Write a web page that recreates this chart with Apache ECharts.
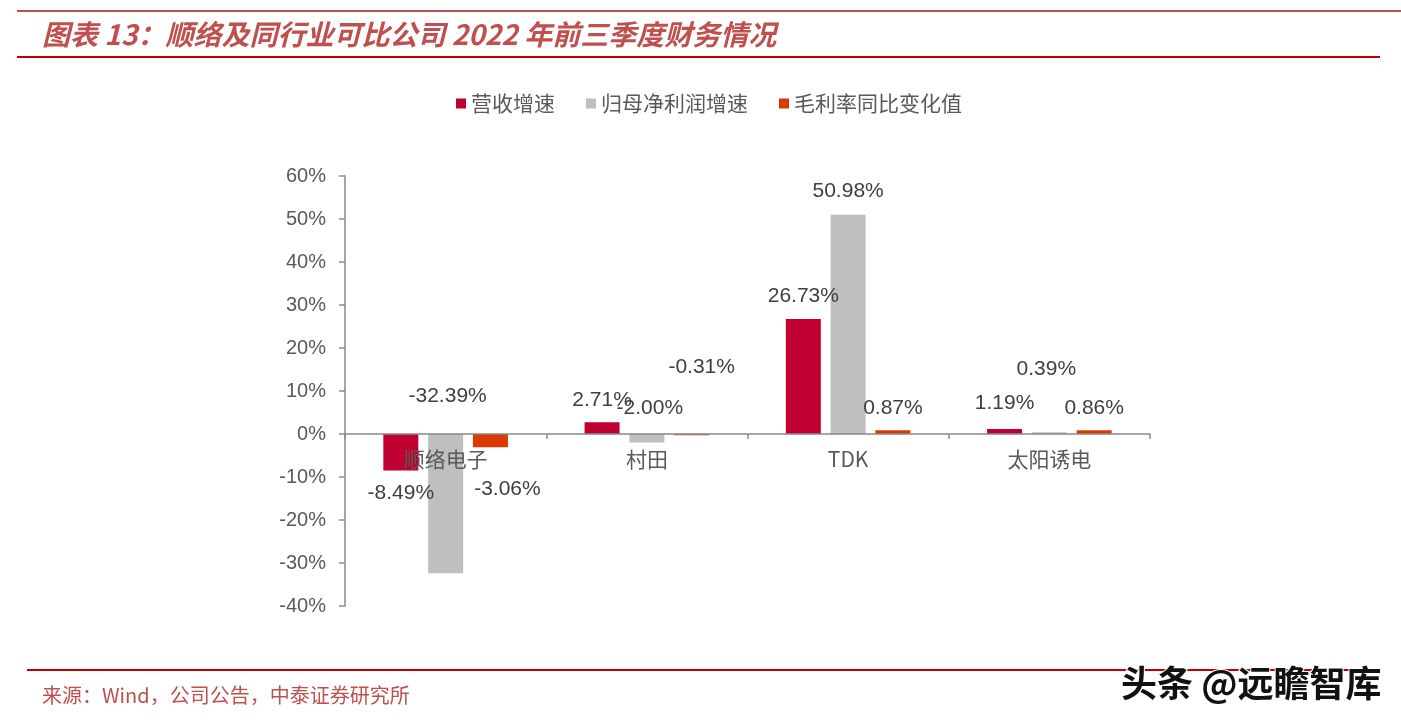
<!DOCTYPE html>
<html><head><meta charset="utf-8">
<script src="https://cdn.jsdelivr.net/npm/echarts@6/dist/echarts.min.js"></script>
<style>html,body{margin:0;padding:0;background:#fff}#c{width:1401px;height:727px}</style>
</head><body><div id="c"></div>
<script>
const categories = ['顺络电子', '村田', 'TDK', '太阳诱电'];
const seriesNames = ['营收增速', '归母净利润增速', '毛利率同比变化值'];
const revenueGrowth = [-8.49, 2.71, 26.73, 1.19];
const netProfitGrowth = [-32.39, -2.00, 50.98, 0.39];
const grossMarginChange = [-3.06, -0.31, 0.87, 0.86];
const yAxisMin = -40, yAxisMax = 60, yAxisInterval = 10;

const colors = ['#C00030', '#BFBFBF', '#DA3A00'];
const CJK = '"Noto Sans CJK SC", "Liberation Sans", sans-serif';
const LAT = '"Liberation Sans", Arial, sans-serif';

const gridTop = 176, gridBottom = 121, chartH = 727;
const gridH = chartH - gridTop - gridBottom;
// move category axis up to the zero line
const zeroOffset = -((0 - yAxisMin) / (yAxisMax - yAxisMin)) * gridH;

// label placement tweaks (style, per series, per category)
const labelTweaks = [
  [{position: 'bottom', distance: 12}, {position: 'top', distance: 12}, {position: 'top', distance: 12}, {position: 'top', distance: 15}],
  [{position: 'top', distance: 27, offset: [2, 0]}, {position: 'top', distance: 15, offset: [3, 0]}, {position: 'top', distance: 13}, {position: 'top', distance: 53, offset: [-3, 0]}],
  [{position: 'bottom', distance: 32, offset: [17, 0]}, {position: 'top', distance: 56, offset: [10, 0]}, {position: 'top', distance: 12}, {position: 'top', distance: 12}]
];

const valueSets = [revenueGrowth, netProfitGrowth, grossMarginChange];

const series = valueSets.map((vals, si) => ({
  name: seriesNames[si],
  type: 'bar',
  barWidth: 35,
  barGap: '28%',
  z: 2,
  itemStyle: {color: colors[si]},
  label: {
    show: true,
    fontFamily: LAT,
    fontSize: 21,
    color: '#404040',
    formatter: p => p.value.toFixed(2) + '%'
  },
  data: vals.map((v, ci) => ({value: v, label: Object.assign({}, labelTweaks[si][ci])}))
}));

const chart = echarts.init(document.getElementById('c'), null, {renderer: 'canvas'});
chart.setOption({
  animation: false,
  backgroundColor: '#fff',
  color: colors,
  grid: {left: 345, right: 251, top: gridTop, bottom: gridBottom, containLabel: false},
  legend: {
    data: seriesNames,
    top: 88,
    left: 451,
    icon: 'rect',
    itemWidth: 10,
    itemHeight: 10,
    itemGap: 31,
    textStyle: {fontFamily: CJK, fontSize: 21, color: '#595959'}
  },
  xAxis: {
    type: 'category',
    data: categories,
    position: 'bottom',
    offset: zeroOffset,
    z: 5,
    axisLine: {show: true, onZero: false, lineStyle: {color: '#898989', width: 1.5}},
    axisTick: {show: true, length: 5, lineStyle: {color: '#898989', width: 1.5}},
    axisLabel: {margin: 15, fontSize: 21, color: '#595959', fontFamily: CJK}
  },
  yAxis: {
    type: 'value',
    min: yAxisMin,
    max: yAxisMax,
    interval: yAxisInterval,
    axisLine: {show: true, lineStyle: {color: '#898989', width: 1.5}},
    axisTick: {show: true, length: 6, lineStyle: {color: '#898989', width: 1.5}},
    splitLine: {show: false},
    axisLabel: {formatter: '{value}%', margin: 19, fontSize: 20, color: '#595959', fontFamily: LAT}
  },
  graphic: [
    {type: 'rect', shape: {x: 17, y: 10, width: 1384, height: 2}, style: {fill: '#C0504D'}},
    {type: 'text', left: 42, top: 20, style: {text: '图表 13：顺络及同行业可比公司 2022 年前三季度财务情况', font: 'italic bold 28px "Noto Sans CJK SC"', fill: '#C0504D'}},
    {type: 'rect', shape: {x: 17, y: 56, width: 1363, height: 2}, style: {fill: '#C00000'}},
    {type: 'rect', shape: {x: 27, y: 669, width: 1353, height: 2}, style: {fill: '#C00000'}},
    {type: 'text', left: 42, top: 685, style: {text: '来源：Wind，公司公告，中泰证券研究所', font: '20px "Noto Sans CJK SC"', fill: '#C0504D'}},
    {type: 'text', left: 1120, top: 664, style: {text: '头条 @远瞻智库', font: 'bold 36px "Noto Sans CJK SC"', fill: '#111', stroke: '#fff', lineWidth: 2}}
  ],
  series: series
});
</script>
</body></html>
